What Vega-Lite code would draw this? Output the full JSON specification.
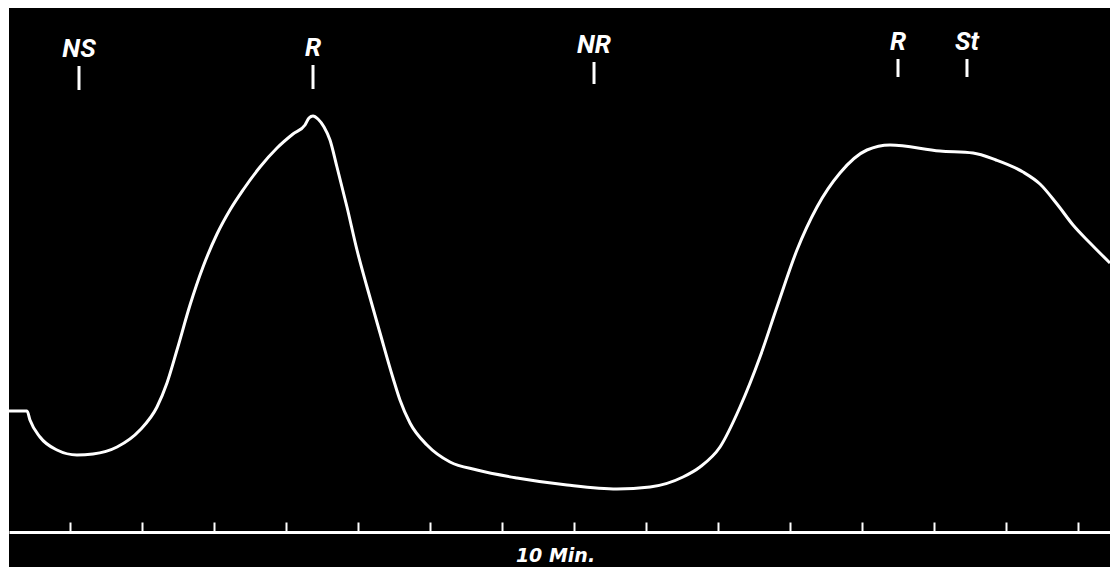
{
  "$schema": "https://vega.github.io/schema/vega-lite/v6.json",
  "autosize": {"type": "none"},
  "width": 1101,
  "height": 559,
  "padding": {"left": 9, "top": 8, "right": 0, "bottom": 2},
  "background": "white",
  "config": {"view": {"fill": "black", "stroke": null}},
  "datasets": {
    "curve": [
      {"t": 0.153, "v": 12.1}, {"t": 0.403, "v": 12.1}, {"t": 0.444, "v": 11.2}, {"t": 0.583, "v": 9.5},
      {"t": 0.819, "v": 8.2}, {"t": 1.097, "v": 7.7}, {"t": 1.319, "v": 7.8}, {"t": 1.653, "v": 8.5},
      {"t": 1.972, "v": 10.2}, {"t": 2.208, "v": 12.5}, {"t": 2.347, "v": 14.9}, {"t": 2.486, "v": 18.2},
      {"t": 2.667, "v": 22.7}, {"t": 2.847, "v": 26.5}, {"t": 3.042, "v": 29.8}, {"t": 3.222, "v": 32.2},
      {"t": 3.403, "v": 34.2}, {"t": 3.639, "v": 36.5}, {"t": 3.875, "v": 38.4}, {"t": 4.097, "v": 39.8},
      {"t": 4.264, "v": 40.7}, {"t": 4.319, "v": 41.4}, {"t": 4.375, "v": 41.6}, {"t": 4.444, "v": 41.3},
      {"t": 4.528, "v": 40.5}, {"t": 4.611, "v": 39.2}, {"t": 4.708, "v": 36.5}, {"t": 4.847, "v": 32.5},
      {"t": 4.986, "v": 28.2}, {"t": 5.125, "v": 24.5}, {"t": 5.306, "v": 19.9}, {"t": 5.486, "v": 15.4},
      {"t": 5.583, "v": 13.2}, {"t": 5.722, "v": 10.9},
      {"t": 5.958, "v": 8.7}, {"t": 6.278, "v": 7.0}, {"t": 6.653, "v": 6.2}, {"t": 7.208, "v": 5.4},
      {"t": 7.903, "v": 4.7}, {"t": 8.597, "v": 4.3}, {"t": 9.056, "v": 4.5}, {"t": 9.514, "v": 5.5},
      {"t": 9.75, "v": 6.5}, {"t": 10.028, "v": 8.5}, {"t": 10.306, "v": 12.5}, {"t": 10.583, "v": 17.5},
      {"t": 10.819, "v": 22.5}, {"t": 11.097, "v": 28.2}, {"t": 11.375, "v": 32.5}, {"t": 11.694, "v": 35.9},
      {"t": 12.069, "v": 38.2}, {"t": 12.389, "v": 38.7}, {"t": 13.083, "v": 38.1}, {"t": 13.542, "v": 37.9},
      {"t": 13.861, "v": 37.2}, {"t": 14.236, "v": 36.0}, {"t": 14.472, "v": 34.8}, {"t": 14.708, "v": 32.8},
      {"t": 14.931, "v": 30.7}, {"t": 15.167, "v": 28.9}, {"t": 15.444, "v": 26.9}
    ],
    "events": [
      {"label": "NS", "t": 1.125, "top": 46.6, "bottom": 44.2},
      {"label": "R", "t": 4.375, "top": 46.7, "bottom": 44.3},
      {"label": "NR", "t": 8.278, "top": 47.0, "bottom": 44.8},
      {"label": "R", "t": 12.5, "top": 47.3, "bottom": 45.5},
      {"label": "St", "t": 13.458, "top": 47.3, "bottom": 45.5}
    ]
  },
  "layer": [
    {
      "data": {"name": "curve"},
      "mark": {"type": "line", "color": "white", "strokeWidth": 3, "interpolate": "monotone", "clip": true},
      "encoding": {
        "x": {
          "field": "t", "type": "quantitative",
          "scale": {"domain": [0.1528, 15.4444], "nice": false, "zero": false},
          "axis": {
            "orient": "bottom", "offset": -35, "values": [1,2,3,4,5,6,7,8,9,10,11,12,13,14,15],
            "labels": false, "grid": false,
            "domainColor": "white", "domainWidth": 3,
            "tickColor": "white", "tickWidth": 2, "tickSize": -10,
            "title": "10 Min.", "titleColor": "white",
            "titleFont": "DejaVu Sans", "titleFontSize": 19, "titleFontStyle": "italic", "titleFontWeight": "bold",
            "titleX": 546, "titleY": 29, "titleAlign": "center", "titleBaseline": "alphabetic"
          }
        },
        "y": {
          "field": "v", "type": "quantitative",
          "scale": {"domain": [-3.5, 52.4], "nice": false, "zero": false},
          "axis": null
        }
      }
    },
    {
      "data": {"name": "events"},
      "mark": {"type": "rule", "color": "white", "strokeWidth": 3},
      "encoding": {
        "x": {"field": "t", "type": "quantitative"},
        "y": {"field": "top", "type": "quantitative"},
        "y2": {"field": "bottom"}
      }
    },
    {
      "data": {"name": "events"},
      "mark": {"type": "text", "color": "white", "font": "Roboto", "fontSize": 26, "fontStyle": "italic", "fontWeight": "bold", "baseline": "alphabetic", "dy": -9},
      "encoding": {
        "x": {"field": "t", "type": "quantitative"},
        "y": {"field": "top", "type": "quantitative"},
        "text": {"field": "label"}
      }
    }
  ]
}
